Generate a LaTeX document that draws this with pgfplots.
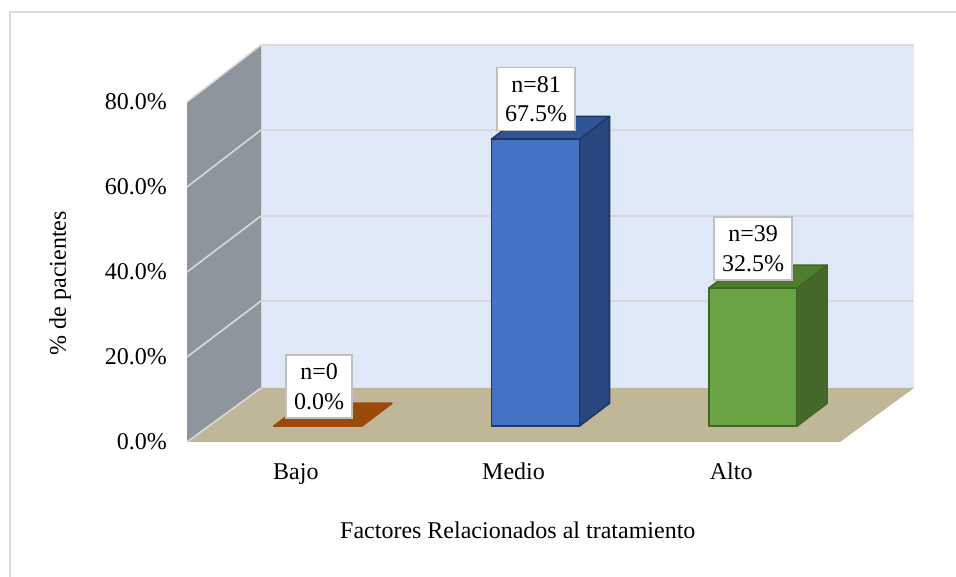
\documentclass[border=0pt]{standalone}
\usepackage{pgfplots}
\pgfplotsset{compat=1.18}
\usepackage{fontspec}
\setmainfont{Liberation Serif}
\definecolor{wallback}{HTML}{DEE8F6}
\definecolor{wallside}{HTML}{8E959C}
\definecolor{floorc}{HTML}{C0B698}
\definecolor{gridc}{HTML}{D9D9D9}
\definecolor{boxc}{HTML}{BFBFBF}
\definecolor{bluef}{HTML}{4472C4}
\definecolor{bluet}{HTML}{2F5597}
\definecolor{blues}{HTML}{2A4880}
\definecolor{bluee}{HTML}{1F3864}
\definecolor{greenf}{HTML}{6AA343}
\definecolor{greent}{HTML}{4E7D2E}
\definecolor{greens}{HTML}{44692A}
\definecolor{greene}{HTML}{3F6625}
\definecolor{brownc}{HTML}{9C4A09}
\newcommand{\chartfont}{\fontsize{24}{29.5}\selectfont}
% #1 category, #2 percent, #3 front, #4 top, #5 side, #6 edge
\newcommand{\threedbar}[6]{%
  \pgfmathsetmacro\xl{#1+0.1011-0.2021}
  \pgfmathsetmacro\xr{#1+0.1011+0.2021}
  \pgfmathsetmacro\xlb{\xl+0.1378}
  \pgfmathsetmacro\xrb{\xr+0.1378}
  \pgfmathsetmacro\yb{3.76}
  \pgfmathsetmacro\yt{3.76+#2}
  \pgfmathsetmacro\ybb{\yb+5.35}
  \pgfmathsetmacro\ytb{\yt+5.35}
  \addplot[fill=#5,draw=#6,line width=1.6pt,line join=round] coordinates {(\xr,\yb) (\xrb,\ybb) (\xrb,\ytb) (\xr,\yt)} -- cycle;
  \addplot[fill=#4,draw=#6,line width=1.6pt,line join=round] coordinates {(\xl,\yt) (\xr,\yt) (\xrb,\ytb) (\xlb,\ytb)} -- cycle;
  \addplot[fill=#3,draw=#6,line width=1.6pt,line join=round] coordinates {(\xl,\yb) (\xr,\yb) (\xr,\yt) (\xl,\yt)} -- cycle;
}
\begin{document}
\begin{tikzpicture}
\path[use as bounding box] (0pt,0pt) rectangle (956pt,577pt);
\draw[gridc,line width=1.3pt] (10pt,0pt) -- (10pt,565pt) -- (956pt,565pt);
\begin{axis}[
  at={(187pt,135pt)},
  anchor=south west,
  scale only axis,
  width=727pt,
  height=397pt,
  xmin=-0.5, xmax=2.84,
  ymin=0, ymax=93.41,
  clip=false,
  axis line style={draw=none},
  major tick length=0pt,
  xtick={0,1,2},
  xticklabels={Bajo,Medio,Alto},
  ytick={0,20,40,60,80},
  yticklabels={0.0\%,20.0\%,40.0\%,60.0\%,80.0\%},
  tick label style={font=\chartfont},
  label style={font=\chartfont},
  xticklabel style={anchor=base,inner sep=0pt,yshift=-38pt},
  yticklabel style={anchor=east,inner sep=0pt,xshift=-20pt},
  xlabel={Factores Relacionados al tratamiento},
  ylabel={\% de pacientes},
  xlabel style={at={(rel axis cs:0.455,-0.2217)},anchor=center},
  ylabel style={at={(rel axis cs:-0.1747,0.4)},anchor=center},
]
% walls and floor
\addplot[fill=wallback,draw=none] coordinates {(-0.16,12.71) (2.84,12.71) (2.84,93.41) (-0.16,93.41)} -- cycle;
\addplot[fill=wallside,draw=none] coordinates {(-0.5,0) (-0.16,12.71) (-0.16,93.41) (-0.5,80)} -- cycle;
\addplot[fill=floorc,draw=none] coordinates {(-0.5,0) (2.5,0) (2.84,12.71) (-0.16,12.71)} -- cycle;
% grid on the back wall
\addplot[gridc,line width=1.6pt] coordinates {(-0.16,33.18) (2.84,33.18)};
\addplot[gridc,line width=1.6pt] coordinates {(-0.16,53.18) (2.84,53.18)};
\addplot[gridc,line width=1.6pt] coordinates {(-0.16,73.41) (2.84,73.41)};
\addplot[gridc,line width=1.6pt] coordinates {(-0.16,93.41) (2.84,93.41)};
% grid on the side wall
\addplot[gridc,line width=1.6pt] coordinates {(-0.5,0) (-0.16,12.71)};
\addplot[gridc,line width=1.6pt] coordinates {(-0.5,20) (-0.16,33.18)};
\addplot[gridc,line width=1.6pt] coordinates {(-0.5,40) (-0.16,53.18)};
\addplot[gridc,line width=1.6pt] coordinates {(-0.5,60) (-0.16,73.41)};
\addplot[gridc,line width=1.6pt] coordinates {(-0.5,80) (-0.16,93.41)};
% bars
\threedbar{0}{0}{brownc}{brownc}{brownc}{brownc}
\threedbar{1}{67.5}{bluef}{bluet}{blues}{bluee}
\threedbar{2}{32.5}{greenf}{greent}{greens}{greene}
% data labels
\node[draw=boxc,line width=1.6pt,fill=white,align=center,font=\chartfont,inner sep=2pt,minimum width=66pt,minimum height=63pt] at (axis cs:0.1066,13.06) {n=0\\0.0\%};
\node[draw=boxc,line width=1.6pt,fill=white,align=center,font=\chartfont,inner sep=2pt,minimum width=78pt,minimum height=63pt] at (axis cs:1.1035,80.7) {n=81\\67.5\%};
\node[draw=boxc,line width=1.6pt,fill=white,align=center,font=\chartfont,inner sep=2pt,minimum width=78pt,minimum height=63pt] at (axis cs:2.1004,45.5) {n=39\\32.5\%};
\end{axis}
\end{tikzpicture}
\end{document}
